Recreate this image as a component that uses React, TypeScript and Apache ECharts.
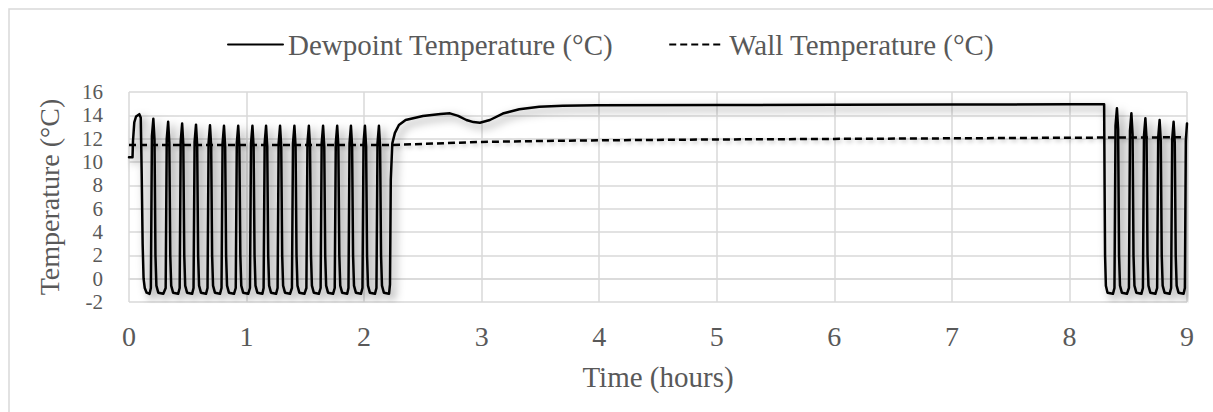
import React, { useEffect, useRef } from "react";
import * as echarts from "echarts";

const xTicks = [0, 9, 1];
const yTicks = [-2, 16, 2];

const dewpointName = "Dewpoint Temperature (°C)";
const wallName = "Wall Temperature (°C)";

// Dewpoint temperature (°C) vs time (hours)
const dewpointPoints: [number, number][] = [
  [0, 10.4], [0.03, 10.4], [0.034, 11.8], [0.045, 13.4], [0.06, 13.9], [0.088, 14.1], [0.1, 13.8],
  [0.108, 9], [0.116, 3], [0.124, 0], [0.134, -0.8], [0.15, -1.2], [0.175, -1.3],
  [0.186, -0.8], [0.195, 12.2], [0.207, 13.7], [0.217, 11.9], [0.225, 2], [0.233, -0.6], [0.249, -1.2], [0.292, -1.3],
  [0.312, -0.8], [0.321, 11.95], [0.333, 13.45], [0.343, 11.65], [0.351, 2], [0.359, -0.6], [0.375, -1.2], [0.418, -1.3],
  [0.431, -0.8], [0.440, 11.8], [0.452, 13.3], [0.462, 11.5], [0.470, 2], [0.478, -0.6], [0.494, -1.2], [0.537, -1.3],
  [0.549, -0.8], [0.558, 11.7], [0.570, 13.2], [0.580, 11.4], [0.588, 2], [0.596, -0.6], [0.612, -1.2], [0.655, -1.3],
  [0.668, -0.8], [0.677, 11.65], [0.689, 13.15], [0.699, 11.35], [0.707, 2], [0.715, -0.6], [0.731, -1.2], [0.774, -1.3],
  [0.787, -0.8], [0.796, 11.6], [0.808, 13.1], [0.818, 11.3], [0.826, 2], [0.834, -0.6], [0.850, -1.2], [0.893, -1.3],
  [0.908, -0.8], [0.917, 11.6], [0.929, 13.1], [0.939, 11.3], [0.947, 2], [0.955, -0.6], [0.971, -1.2], [1.014, -1.3],
  [1.029, -0.8], [1.038, 11.6], [1.050, 13.1], [1.060, 11.3], [1.068, 2], [1.076, -0.6], [1.092, -1.2], [1.135, -1.3],
  [1.145, -0.8], [1.154, 11.6], [1.166, 13.1], [1.176, 11.3], [1.184, 2], [1.192, -0.6], [1.208, -1.2], [1.251, -1.3],
  [1.264, -0.8], [1.273, 11.6], [1.285, 13.1], [1.295, 11.3], [1.303, 2], [1.311, -0.6], [1.327, -1.2], [1.370, -1.3],
  [1.386, -0.8], [1.395, 11.6], [1.407, 13.1], [1.417, 11.3], [1.425, 2], [1.433, -0.6], [1.449, -1.2], [1.492, -1.3],
  [1.509, -0.8], [1.518, 11.6], [1.530, 13.1], [1.540, 11.3], [1.548, 2], [1.556, -0.6], [1.572, -1.2], [1.615, -1.3],
  [1.630, -0.8], [1.639, 11.6], [1.651, 13.1], [1.661, 11.3], [1.669, 2], [1.677, -0.6], [1.693, -1.2], [1.736, -1.3],
  [1.750, -0.8], [1.759, 11.6], [1.771, 13.1], [1.781, 11.3], [1.789, 2], [1.797, -0.6], [1.813, -1.2], [1.856, -1.3],
  [1.867, -0.8], [1.876, 11.6], [1.888, 13.1], [1.898, 11.3], [1.906, 2], [1.914, -0.6], [1.930, -1.2], [1.973, -1.3],
  [1.986, -0.8], [1.995, 11.6], [2.007, 13.1], [2.017, 11.3], [2.025, 2], [2.033, -0.6], [2.049, -1.2], [2.092, -1.3],
  [2.105, -0.8], [2.114, 11.6], [2.126, 13.1], [2.136, 11.3], [2.144, 2], [2.152, -0.6], [2.168, -1.2], [2.212, -1.3],
  [2.220, -0.5], [2.227, 8.5], [2.240, 11.6], [2.262, 12.5], [2.296, 13.17], [2.353, 13.6], [2.5, 13.94],
  [2.65, 14.12], [2.73, 14.17], [2.8, 13.95], [2.87, 13.6], [2.93, 13.42], [2.985, 13.37],
  [3.07, 13.6], [3.18, 14.15], [3.32, 14.52], [3.49, 14.74], [3.69, 14.83], [3.98, 14.86],
  [5, 14.88], [6, 14.9], [7, 14.92], [8, 14.94], [8.295, 14.95],
  [8.299, 8], [8.303, 2], [8.310, -0.6], [8.324, -1.2], [8.370, -1.3],
  [8.383, -0.8], [8.392, 13.1], [8.404, 14.6], [8.414, 12.8], [8.422, 2], [8.430, -0.6], [8.446, -1.2], [8.489, -1.3],
  [8.506, -0.8], [8.515, 12.67], [8.527, 14.17], [8.537, 12.37], [8.545, 2], [8.553, -0.6], [8.569, -1.2], [8.612, -1.3],
  [8.625, -0.8], [8.634, 12.25], [8.646, 13.75], [8.656, 11.95], [8.664, 2], [8.672, -0.6], [8.688, -1.2], [8.731, -1.3],
  [8.746, -0.8], [8.755, 12.1], [8.767, 13.6], [8.777, 11.8], [8.785, 2], [8.793, -0.6], [8.809, -1.2], [8.852, -1.3],
  [8.865, -0.8], [8.874, 11.95], [8.886, 13.45], [8.896, 11.65], [8.904, 2], [8.912, -0.6], [8.928, -1.2], [8.971, -1.3],
  [8.982, -0.8], [8.990, 11.8], [9.0, 13.3],
];

// Wall temperature (°C) vs time (hours)
const wallPoints: [number, number][] = [
  [0, 11.45], [2.2, 11.45], [2.5, 11.55], [3, 11.72], [3.5, 11.8], [4, 11.86],
  [5, 11.93], [6, 11.98], [7, 12.03], [8, 12.08], [9, 12.12],
];

const FONT = "Liberation Serif";
const TEXT = "#595959";
const GRID = "#d9d9d9";

export default function App() {
  const ref = useRef<HTMLDivElement>(null);
  useEffect(() => {
    if (!ref.current) return;
    const chart = echarts.init(ref.current, null, { renderer: "svg" });
    chart.setOption({
      animation: false,
      backgroundColor: "#ffffff",
      textStyle: { fontFamily: FONT },
      graphic: [
        {
          type: "rect",
          shape: { x: 9, y: 9, width: 1240, height: 440 },
          style: { fill: "none", stroke: GRID, lineWidth: 1.5 },
          silent: true,
        },
      ],
      legend: {
        left: 222,
        top: 25,
        itemWidth: 55,
        itemHeight: 14,
        itemGap: 55,
        textStyle: { fontFamily: FONT, fontSize: 29, color: TEXT },
        itemStyle: { opacity: 0 },
        lineStyle: { shadowBlur: 0, shadowOffsetX: 0, shadowOffsetY: 0, shadowColor: "rgba(0,0,0,0)" },
        data: [dewpointName, wallName],
      },
      grid: { left: 129, right: 26, top: 92, bottom: 110, containLabel: false },
      xAxis: {
        type: "value",
        min: xTicks[0],
        max: xTicks[1],
        interval: xTicks[2],
        name: "Time (hours)",
        nameLocation: "middle",
        nameGap: 60,
        nameTextStyle: { fontFamily: FONT, fontSize: 29, color: TEXT },
        axisLine: { show: true, lineStyle: { color: GRID, width: 1.5 } },
        axisTick: { show: false },
        axisLabel: { fontFamily: FONT, fontSize: 28, color: TEXT, margin: 20 },
        splitLine: { show: true, lineStyle: { color: GRID, width: 1.5 } },
      },
      yAxis: {
        type: "value",
        min: yTicks[0],
        max: yTicks[1],
        interval: yTicks[2],
        name: "Temperature (°C)",
        nameLocation: "middle",
        nameRotate: 90,
        nameGap: 66,
        nameTextStyle: { fontFamily: FONT, fontSize: 28, color: TEXT, lineHeight: 28 },
        axisLine: { show: false },
        axisTick: { show: false },
        axisLabel: {
          fontFamily: FONT,
          fontSize: 21,
          color: TEXT,
          margin: 26,
          showMinLabel: true,
          showMaxLabel: true,
          hideOverlap: false,
        },
        splitLine: { show: true, lineStyle: { color: GRID, width: 1.5 } },
      },
      series: [
        {
          name: dewpointName,
          type: "line",
          data: dewpointPoints,
          showSymbol: false,
          symbol: "none",
          smooth: false,
          color: "#000000",
          lineStyle: {
            color: "#000000",
            width: 2.5,
            join: "round",
            cap: "round",
            shadowColor: "rgba(0,0,0,0.5)",
            shadowBlur: 8,
            shadowOffsetX: 4,
            shadowOffsetY: 4,
          },
          z: 3,
        },
        {
          name: wallName,
          type: "line",
          data: wallPoints,
          showSymbol: false,
          symbol: "none",
          color: "#000000",
          lineStyle: {
            color: "#000000",
            width: 2.5,
            type: [7, 4],
            shadowColor: "rgba(0,0,0,0.25)",
            shadowBlur: 4,
            shadowOffsetX: 2,
            shadowOffsetY: 2,
          },
          z: 2,
        },
      ],
    });
    return () => chart.dispose();
  }, []);
  return (
    <div
      ref={ref}
      style={{ position: "fixed", left: 0, top: 0, width: 1213, height: 412, background: "#fff" }}
    />
  );
}
